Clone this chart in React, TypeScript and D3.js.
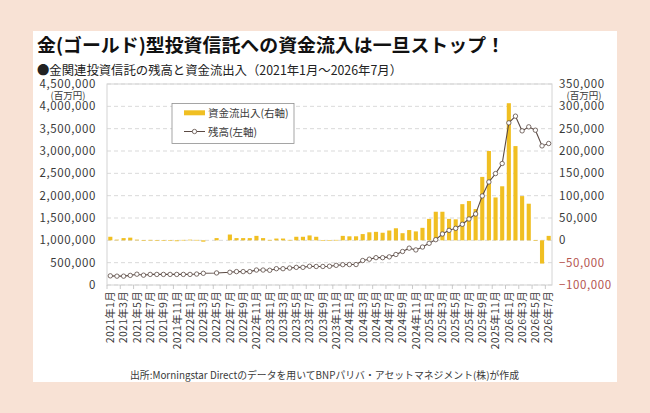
import React from "react";
import * as d3 from "d3";

const months: string[] = [
  "2021年1月","2021年2月","2021年3月","2021年4月","2021年5月","2021年6月","2021年7月","2021年8月","2021年9月","2021年10月","2021年11月","2021年12月",
  "2022年1月","2022年2月","2022年3月","2022年4月","2022年5月","2022年6月","2022年7月","2022年8月","2022年9月","2022年10月","2022年11月","2022年12月",
  "2023年1月","2023年2月","2023年3月","2023年4月","2023年5月","2023年6月","2023年7月","2023年8月","2023年9月","2023年10月","2023年11月","2023年12月",
  "2024年1月","2024年2月","2024年3月","2024年4月","2024年5月","2024年6月","2024年7月","2024年8月","2024年9月","2024年10月","2024年11月","2024年12月",
  "2025年1月","2025年2月","2025年3月","2025年4月","2025年5月","2025年6月","2025年7月","2025年8月","2025年9月","2025年10月","2025年11月","2025年12月",
  "2026年1月","2026年2月","2026年3月","2026年4月","2026年5月","2026年6月","2026年7月",
];

// 資金流出入（右軸, 百万円）
const flows: (number | null)[] = [
  8000, 1500, 5000, 6000, 1500, 500, 1000, 500, 500, 500, -2000, 1000,
  1500, 1000, -3000, null, 5000, null, 13000, 5000, 5000, 5000, 10000, 5000,
  1000, 4000, 4000, 1000, 8000, 8000, 11000, 8000, 500, 500, 1000, 10000,
  9000, 9000, 14000, 18000, 19000, 17000, 22000, 27000, 16000, 23000, 20000, 28000,
  48000, 64000, 64000, 48000, 47000, 81000, 88000, 70000, 142000, 200000, 96000, 121000,
  307000, 211000, 99000, 82000, -1000, -52000, 10000,
];

// 残高（左軸, 百万円）
const balance: (number | null)[] = [
  205000, 198000, 198000, 215000, 242000, 220000, 237000, 237000, 237000, 237000, 237000, 237000,
  237000, 245000, 262000, null, 270000, null, 285000, 300000, 300000, 300000, 335000, 335000,
  330000, 365000, 365000, 380000, 395000, 395000, 420000, 415000, 415000, 420000, 440000, 455000,
  458000, 458000, 548000, 578000, 612000, 612000, 630000, 683000, 750000, 825000, 785000, 850000,
  933000, 1015000, 1142000, 1224000, 1269000, 1359000, 1478000, 1590000, 1994000, 2307000, 2495000, 2720000,
  3630000, 3780000, 3451000, 3541000, 3466000, 3114000, 3168000,
];

const leftTicks: number[] = [0, 500000, 1000000, 1500000, 2000000, 2500000, 3000000, 3500000, 4000000, 4500000];
const rightTicks: number[] = [-100000, -50000, 0, 50000, 100000, 150000, 200000, 250000, 300000, 350000];

const title = "金(ゴールド)型投資信託への資金流入は一旦ストップ！";
const subtitle = "●金関連投資信託の残高と資金流出入（2021年1月～2026年7月）";
const unitLabel = "(百万円)";
const legendFlow = "資金流出入(右軸)";
const legendBal = "残高(左軸)";
const source = "出所:Morningstar Directのデータを用いてBNPパリバ・アセットマネジメント(株)が作成";

const FONT = "'Noto Sans CJK JP', 'Noto Sans', sans-serif";
const GOLD = "#F0BF22";
const LINE = "#5b4a44";
const NEG = "#b5544f";
const TXT = "#3a3a3a";

export default function App() {
  const W = 650, H = 413;
  const L = 107, R = 552, T = 84, B = 285;
  const idx = months.map((_, i) => i);
  const x = d3.scaleBand<number>().domain(idx).range([L, R]).paddingInner(0.38).paddingOuter(0.19);
  const step = x.step();
  const bw = x.bandwidth();
  const cx = (i: number) => (x(i) as number) + bw / 2;
  const yL = d3.scaleLinear().domain([0, 4500000]).range([B, T]);
  const yR = d3.scaleLinear().domain([-100000, 350000]).range([B, T]);
  const fmt = d3.format(",");

  const pts = balance
    .map((v, i) => ({ i, v }))
    .filter((d) => d.v !== null) as { i: number; v: number }[];
  const linePath = d3
    .line<{ i: number; v: number }>()
    .x((d) => cx(d.i))
    .y((d) => yL(d.v))(pts);

  return (
    <svg width={W} height={H} style={{ position: "absolute", left: 0, top: 0, fontFamily: FONT }}>
      <rect x={0} y={0} width={W} height={H} fill="#F8E2D5" />
      <rect x={33} y={31} width={584} height={351} fill="#ffffff" />

      <text x={37} y={52} fontSize={18.5} fontWeight={600} fill="#111" textLength={468} lengthAdjust="spacingAndGlyphs">
        {title}
      </text>
      <text x={37} y={74.5} fontSize={12.5} fill="#222" textLength={365} lengthAdjust="spacingAndGlyphs">
        {subtitle}
      </text>

      {/* gridlines */}
      {leftTicks.map((t) => (
        <line key={"g" + t} x1={L} x2={R} y1={yL(t)} y2={yL(t)} stroke="#cfcfcf" strokeDasharray="4,3" strokeWidth={0.8} />
      ))}
      {/* plot frame */}
      <rect x={L} y={T} width={R - L} height={B - T} fill="none" stroke="#d4d4d4" strokeWidth={1} />

      {/* bars */}
      {flows.map((v, i) =>
        v === null ? null : (
          <rect
            key={"b" + i}
            x={x(i)}
            width={bw}
            y={Math.min(yR(v), yR(0))}
            height={Math.max(0.6, Math.abs(yR(v) - yR(0)))}
            fill={GOLD}
          />
        )
      )}

      {/* line */}
      <path d={linePath || ""} fill="none" stroke={LINE} strokeWidth={1.1} />
      {pts.map((d) => (
        <circle key={"c" + d.i} cx={cx(d.i)} cy={yL(d.v)} r={2.2} fill="#fff" stroke={LINE} strokeWidth={0.8} />
      ))}

      {/* x axis ticks */}
      {idx.filter((i) => i % 2 === 0).map((i) => (
        <line key={"t" + i} x1={L + step * i} x2={L + step * i} y1={B} y2={B + 4} stroke="#bdbdbd" strokeWidth={0.8} />
      ))}
      {/* x labels */}
      {idx.filter((i) => i % 2 === 0).map((i) => (
        <text
          key={"xl" + i}
          transform={`translate(${cx(i) + 3.8},${B + 6}) rotate(-90)`}
          textAnchor="end"
          fontSize={10.5}
          fill={TXT}
          letterSpacing={0.3}
        >
          {months[i]}
        </text>
      ))}

      {/* left axis labels */}
      {leftTicks.map((t) => (
        <text key={"ll" + t} x={96} y={yL(t) + 4} textAnchor="end" fontSize={11.5} fill={TXT} letterSpacing={0.6}>
          {fmt(t)}
        </text>
      ))}
      <text x={68} y={98.5} textAnchor="middle" fontSize={9.5} fill={TXT}>{unitLabel}</text>

      {/* right axis labels */}
      {rightTicks.map((t) => (
        <text key={"rl" + t} x={559} y={yR(t) + 4} textAnchor="start" fontSize={11.5} fill={t < 0 ? NEG : TXT} letterSpacing={0.6}>
          {fmt(t)}
        </text>
      ))}
      <text x={584} y={98.5} textAnchor="middle" fontSize={9.5} fill={TXT}>{unitLabel}</text>

      {/* legend */}
      <rect x={172} y={103.5} width={122} height={40} fill="#fff" stroke="#8f8f8f" strokeWidth={0.8} />
      <line x1={184} x2={205} y1={112.8} y2={112.8} stroke={GOLD} strokeWidth={5} />
      <text x={208} y={116.5} fontSize={10.5} fill={TXT}>{legendFlow}</text>
      <line x1={184} x2={205} y1={131.5} y2={131.5} stroke={LINE} strokeWidth={1} />
      <circle cx={194.5} cy={131.5} r={2.2} fill="#fff" stroke={LINE} strokeWidth={0.8} />
      <text x={208} y={135.5} fontSize={10.5} fill={TXT}>{legendBal}</text>

      {/* source */}
      <text x={130} y={378.5} fontSize={10} fill={TXT} textLength={389} lengthAdjust="spacingAndGlyphs">
        {source}
      </text>
    </svg>
  );
}
